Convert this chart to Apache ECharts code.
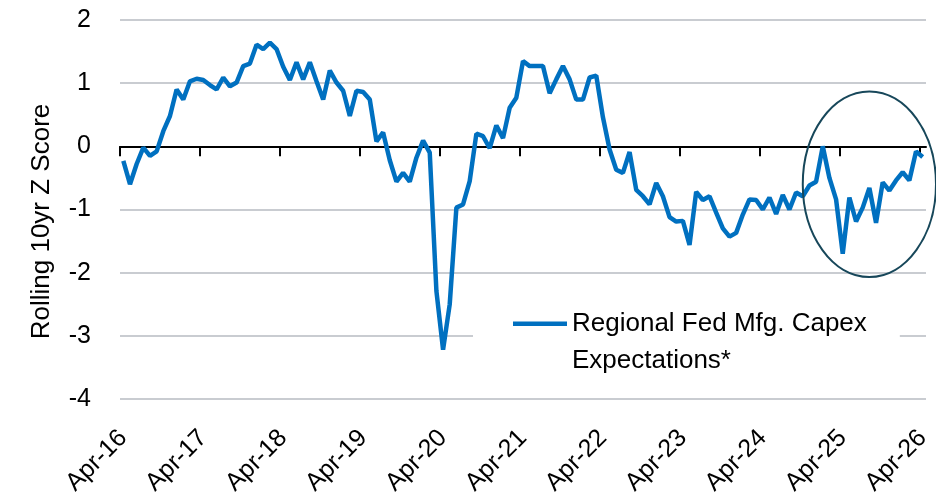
<!DOCTYPE html>
<html>
<head>
<meta charset="utf-8">
<script src="https://cdn.jsdelivr.net/npm/echarts@6/dist/echarts.min.js"></script>
<style>
  html, body { margin: 0; padding: 0; background: #fff; }
  #mychart { width: 936px; height: 501px; }
</style>
</head>
<body>
<div id="mychart"></div>
<script>
// monthly categories, Apr-16 .. Apr-26
var monthNames = ['Jan','Feb','Mar','Apr','May','Jun','Jul','Aug','Sep','Oct','Nov','Dec'];
var startYear = 16, startMonth = 3, monthCount = 121;
var months = [];
for (var i = 0; i < monthCount; i++) {
  var m = startMonth + i;
  months.push(monthNames[m % 12] + '-' + (startYear + Math.floor(m / 12)));
}

var seriesName = 'Regional Fed Mfg. Capex\nExpectations*';

// rolling 10yr z score
var capexZ = [
  -0.23, -0.60, -0.28, -0.02, -0.15, -0.08, 0.24, 0.48, 0.90, 0.74, 1.03, 1.07,
  1.05, 0.97, 0.90, 1.09, 0.95, 1.01, 1.27, 1.31, 1.61, 1.54, 1.64, 1.54,
  1.26, 1.05, 1.33, 1.06, 1.33, 1.03, 0.74, 1.20, 1.01, 0.88, 0.48, 0.88,
  0.86, 0.74, 0.08, 0.22, -0.22, -0.56, -0.42, -0.56, -0.18, 0.09, -0.10, -2.29,
  -3.22, -2.50, -0.97, -0.92, -0.55, 0.20, 0.16, -0.03, 0.33, 0.13, 0.61, 0.77,
  1.35, 1.27, 1.27, 1.27, 0.84, 1.06, 1.27, 1.06, 0.74, 0.74, 1.09, 1.12,
  0.46, -0.05, -0.37, -0.42, -0.09, -0.69, -0.79, -0.92, -0.58, -0.79, -1.12, -1.19,
  -1.18, -1.56, -0.72, -0.85, -0.79, -1.05, -1.30, -1.43, -1.37, -1.08, -0.84, -0.85,
  -1.00, -0.81, -1.07, -0.77, -1.00, -0.73, -0.79, -0.62, -0.56, 0.00, -0.50, -0.84,
  -1.70, -0.81, -1.19, -0.97, -0.66, -1.21, -0.57, -0.70, -0.54, -0.41, -0.54, -0.08,
  -0.17
];

// circled annotation: centre [month index, value], half size [months, value]
var ringCenter = [112, -0.6];
var ringHalf = [10, 1.47];

var tickSlots = months.concat(['']);

var mychart = echarts.init(document.getElementById('mychart'));
var option = {
  animation: false,
  textStyle: { fontFamily: 'Liberation Sans, Arial, sans-serif' },
  grid: { left: 120, right: 10, top: 20, bottom: 102 },
  legend: {
    left: 473,
    top: 295,
    padding: [10, 33, 10, 40],
    backgroundColor: '#fff',
    itemWidth: 54,
    itemHeight: 74,
    icon: 'path://M0,16.5H54V20.9H0Z M0,0H0.01V0.01H0Z M0,74H0.01V73.99H0Z',
    itemStyle: { borderWidth: 0 },
    textStyle: { fontSize: 26, lineHeight: 37, color: '#000' },
    data: [seriesName]
  },
  xAxis: [
    {
      type: 'category',
      data: months,
      boundaryGap: true,
      axisLine: { show: false, onZero: false },
      axisTick: { show: false },
      splitLine: { show: false },
      axisLabel: { interval: 11, rotate: 45, fontSize: 25, color: '#000', margin: 35 }
    },
    {
      type: 'category',
      data: tickSlots,
      boundaryGap: false,
      position: 'bottom',
      axisLine: { show: true, onZero: true, onZeroAxisIndex: 0, lineStyle: { color: '#000', width: 2 } },
      axisTick: {
        show: true,
        length: 10,
        interval: function (idx) { return idx % 12 === 0; },
        lineStyle: { color: '#000', width: 2 }
      },
      axisLabel: { show: false },
      splitLine: { show: false }
    }
  ],
  yAxis: {
    type: 'value',
    min: -4,
    max: 2,
    interval: 1,
    name: 'Rolling 10yr Z Score',
    nameLocation: 'middle',
    nameGap: 65,
    nameTextStyle: { fontSize: 26, color: '#000', padding: [0, 24, 0, 0] },
    axisLine: { show: false },
    axisTick: { show: false },
    axisLabel: { fontSize: 25, color: '#000', margin: 29 },
    splitLine: { lineStyle: { color: '#c9ccd1', width: 2 } }
  },
  series: [
    {
      name: seriesName,
      type: 'line',
      xAxisIndex: 0,
      yAxisIndex: 0,
      data: capexZ,
      symbol: 'none',
      showSymbol: false,
      lineStyle: { color: '#0070c0', width: 4.5 },
      itemStyle: { color: '#0070c0' }
    }
  ]
};
mychart.setOption(option);

// ellipse around the latest period
var c = mychart.convertToPixel({ xAxisIndex: 0, yAxisIndex: 0 }, ringCenter);
var e = mychart.convertToPixel({ xAxisIndex: 0, yAxisIndex: 0 }, [ringCenter[0] - ringHalf[0], ringCenter[1] + ringHalf[1]]);
mychart.setOption({
  graphic: [{
    type: 'ellipse',
    z: 10,
    shape: { cx: c[0], cy: c[1], rx: Math.abs(c[0] - e[0]), ry: Math.abs(c[1] - e[1]) },
    style: { fill: 'none', stroke: '#17475a', lineWidth: 2 }
  }]
});
</script>
</body>
</html>
